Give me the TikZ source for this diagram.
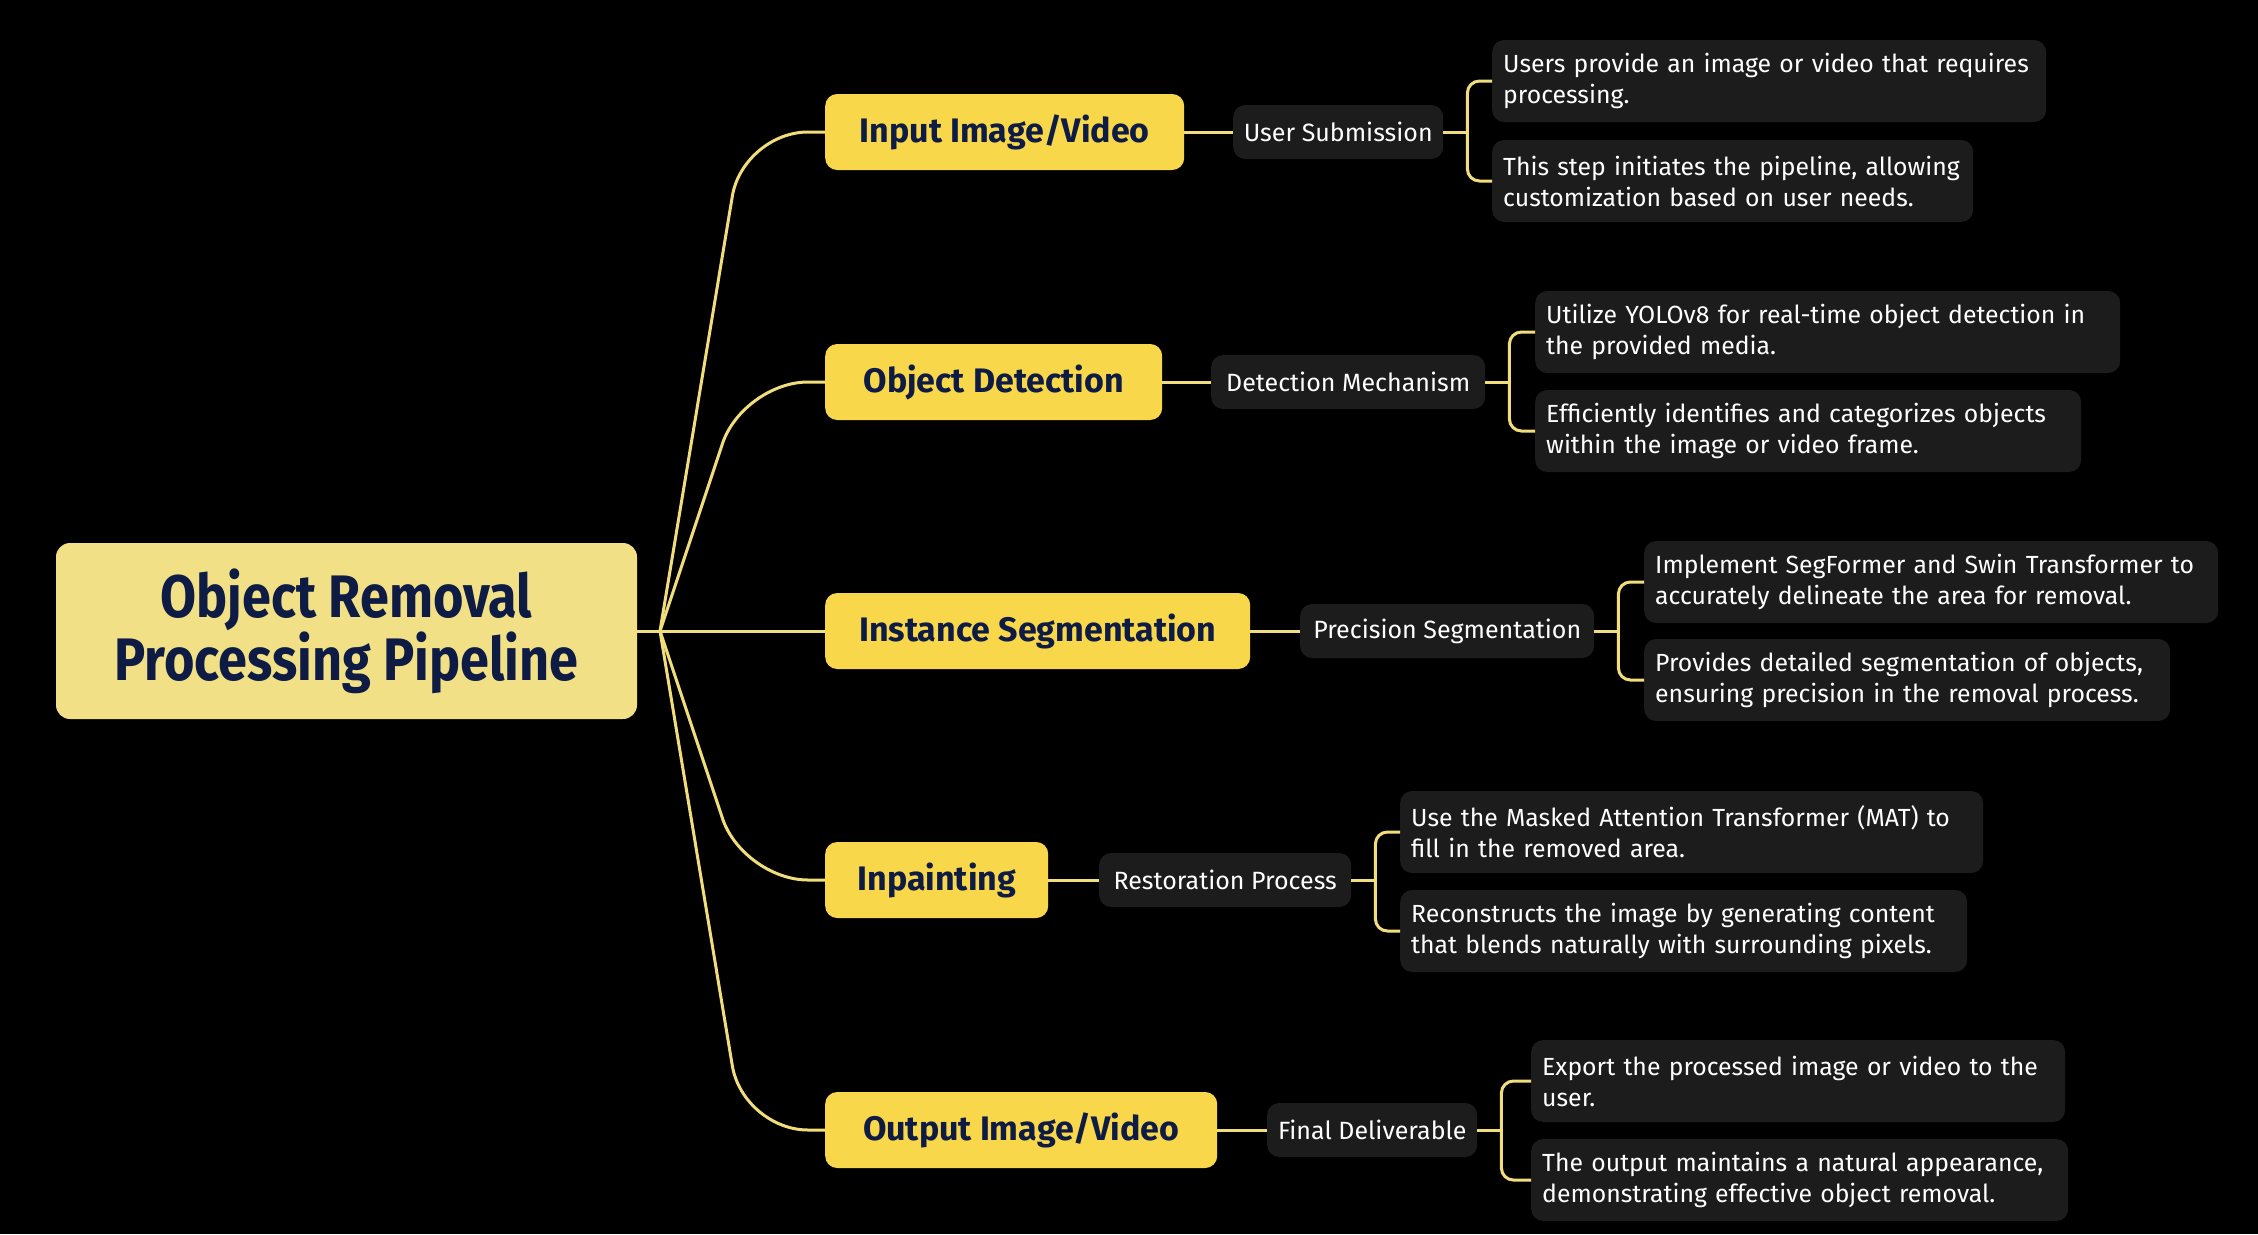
\documentclass[tikz,border=0pt]{standalone}
\usepackage{fontspec}
\setmainfont{Fira Sans}
\newfontfamily\headfont{Fira Sans}[FakeStretch=0.87]
\definecolor{rootc}{HTML}{F2E086}
\definecolor{lonec}{HTML}{F8D74A}
\definecolor{navy}{HTML}{0E1C45}
\definecolor{darkc}{HTML}{1C1C1C}
\definecolor{connc}{HTML}{F2DD7C}
\tikzset{
  rootbox/.style={fill=rootc, rounded corners=14pt, text=navy, align=center, inner sep=0pt,
    minimum width=581pt, minimum height=176pt,
    font=\headfont\bfseries\fontsize{60}{60}\selectfont},
  lonebox/.style={fill=lonec, rounded corners=12pt, text=navy, anchor=west, inner sep=0pt,
    minimum height=76pt, font=\bfseries\fontsize{34}{36}\selectfont},
  ltwobox/.style={fill=darkc, rounded corners=12pt, text=white, anchor=west, inner sep=0pt,
    minimum height=54pt, font=\fontsize{25}{28}\selectfont},
  leafbox/.style={fill=darkc, rounded corners=12pt, text=white, anchor=west, inner xsep=11pt, inner ysep=0pt,
    minimum height=82pt, align=left, font=\fontsize{24.8}{31}\selectfont},
  conn/.style={draw=connc, line width=3pt},
}
\begin{document}
\begin{tikzpicture}[x=1pt,y=-1pt]
\fill[black] (0,0) rectangle (2258,1234);
\useasboundingbox (0,0) rectangle (2258,1234);

\node[rootbox] (root) at (346.5,631) {Object Removal\\Processing Pipeline};
\coordinate (J) at (660,631);

\node[lonebox, minimum width=359pt] (n1) at (825,132) {Input Image/Video};
\node[lonebox, minimum width=337pt] (n2) at (825,382) {Object Detection};
\node[lonebox, minimum width=425pt] (n3) at (825,631) {Instance Segmentation};
\node[lonebox, minimum width=223pt] (n4) at (825,880) {Inpainting};
\node[lonebox, minimum width=392pt] (n5) at (825,1130) {Output Image/Video};

\node[ltwobox, minimum width=210pt] (m1) at (1233,132) {User Submission};
\node[ltwobox, minimum width=274pt] (m2) at (1211,382) {Detection Mechanism};
\node[ltwobox, minimum width=294pt] (m3) at (1300,631) {Precision Segmentation};
\node[ltwobox, minimum width=252pt] (m4) at (1099,880) {Restoration Process};
\node[ltwobox, minimum width=210pt] (m5) at (1267,1130) {Final Deliverable};

\node[leafbox, text width=532pt] (a1) at (1492,81) {Users provide an image or video that requires\\processing.};
\node[leafbox, text width=459pt] (a2) at (1492,181) {This step initiates the pipeline, allowing\\customization based on user needs.};
\node[leafbox, text width=563pt] (b1) at (1535,332) {Utilize YOLOv8 for real-time object detection in\\the provided media.};
\node[leafbox, text width=524pt] (b2) at (1535,431) {Efficiently identifies and categorizes objects\\within the image or video frame.};
\node[leafbox, text width=552pt] (c1) at (1644,582) {Implement SegFormer and Swin Transformer to\\accurately delineate the area for removal.};
\node[leafbox, text width=504pt] (c2) at (1644,680) {Provides detailed segmentation of objects,\\ensuring precision in the removal process.};
\node[leafbox, text width=561pt] (d1) at (1400,832) {Use the Masked Attention Transformer (MAT) to\\fill in the removed area.};
\node[leafbox, text width=545pt] (d2) at (1400,931) {Reconstructs the image by generating content\\that blends naturally with surrounding pixels.};
\node[leafbox, text width=512pt] (e1) at (1531,1081) {Export the processed image or video to the\\user.};
\node[leafbox, text width=515pt] (e2) at (1531,1180) {The output maintains a natural appearance,\\demonstrating effective object removal.};

% root to level one
\draw[conn] (root.east) -- (J);
\draw[conn, rounded corners=65pt] (J) -- (743,132) -- (n1.west);
\draw[conn, rounded corners=65pt] (J) -- (743,382) -- (n2.west);
\draw[conn] (J) -- (n3.west);
\draw[conn, rounded corners=65pt] (J) -- (743,880) -- (n4.west);
\draw[conn, rounded corners=65pt] (J) -- (743,1130) -- (n5.west);

% level one to level two
\draw[conn] (n1.east) -- (m1.west);
\draw[conn] (n2.east) -- (m2.west);
\draw[conn] (n3.east) -- (m3.west);
\draw[conn] (n4.east) -- (m4.west);
\draw[conn] (n5.east) -- (m5.west);

% brackets to leaves
\foreach \m/\p/\q in {m1/a1/a2, m2/b1/b2, m3/c1/c2, m4/d1/d2, m5/e1/e2}{
  \draw[conn] (\m.east) -- ++(24,0) coordinate (k\m);
  \draw[conn, rounded corners=12pt] (k\m) |- (\p.west);
  \draw[conn, rounded corners=12pt] (k\m) |- (\q.west);
}
\end{tikzpicture}
\end{document}
